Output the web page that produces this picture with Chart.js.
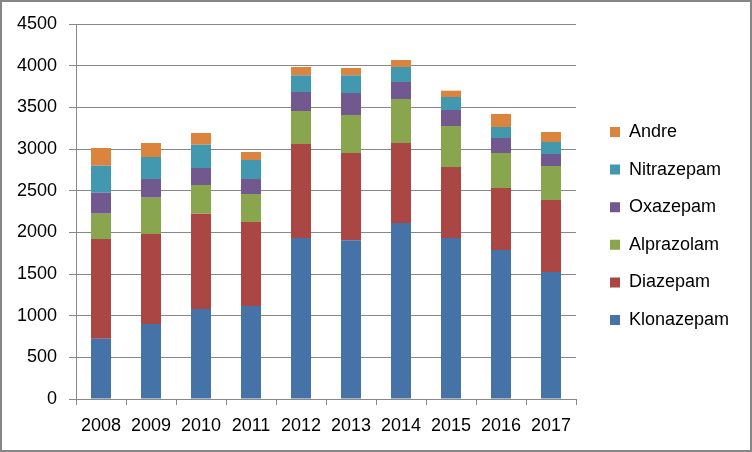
<!DOCTYPE html>
<html><head><meta charset="utf-8">
<script src="https://cdn.jsdelivr.net/npm/chart.js@4/dist/chart.umd.min.js"></script>
<style>
html,body{margin:0;padding:0;background:#fff;}
#wrap{position:relative;width:752px;height:452px;}
#c{position:absolute;left:0;top:0;}
#frame{position:absolute;left:0;top:0;width:752px;height:452px;box-sizing:border-box;border:2px solid #878787;pointer-events:none;}
</style></head><body>
<div id="wrap"><canvas id="c" width="752" height="452"></canvas><div id="frame"></div></div>
<script>
const years = ['2008','2009','2010','2011','2012','2013','2014','2015','2016','2017'];
const seriesNames = ['Klonazepam','Diazepam','Alprazolam','Oxazepam','Nitrazepam','Andre'];
const klonazepam = [724, 900, 1080, 1116, 1932, 1904, 2112, 1932, 1788, 1524];
const diazepam   = [1196, 1080, 1144, 1008, 1128, 1048, 960, 852, 744, 864];
const alprazolam = [304, 436, 344, 336, 396, 456, 528, 492, 420, 408];
const oxazepam   = [252, 224, 204, 180, 228, 264, 204, 192, 180, 144];
const nitrazepam = [324, 264, 280, 228, 200, 212, 180, 156, 132, 144];
const andre      = [212, 168, 140, 96, 100, 88, 84, 76, 156, 120];
const yTicks = [0, 500, 1000, 1500, 2000, 2500, 3000, 3500, 4000, 4500];

const colors = ['#4572A7','#AA4643','#89A54E','#71588F','#4198AF','#DB843D'];
const values = [klonazepam, diazepam, alprazolam, oxazepam, nitrazepam, andre];

const FONT = 'Liberation Sans';
const FS = 18;
const LPAD = 19.6;
const gridColor = '#878787';
const PLOT_RIGHT = 576;
const BOX_X = 610;

// measure widest legend text to size the legend
const mctx = document.createElement('canvas').getContext('2d');
mctx.font = FS + 'px "' + FONT + '"';
const textW = Math.max(...seriesNames.map(n => mctx.measureText(n).width));
const legendWidth = LPAD + 10 + FS / 2 + textW + 10;
const padRight = Math.max(0, 752 - PLOT_RIGHT - legendWidth);

const legendShift = {
  id: 'legendShift',
  afterLayout(chart) {
    const lg = chart.legend;
    if (!lg) return;
    const dx = (BOX_X - LPAD) - lg.left;
    lg.left += dx; lg.right += dx;
  }
};

Chart.defaults.font.family = FONT;
Chart.defaults.font.size = FS;
Chart.defaults.color = '#000';

new Chart(document.getElementById('c'), {
  type: 'bar',
  data: {
    labels: years,
    datasets: seriesNames.map((n, i) => ({
      label: n,
      data: values[i],
      backgroundColor: colors[i],
      borderWidth: 0,
      barPercentage: 0.4,
      categoryPercentage: 1.0
    }))
  },
  plugins: [legendShift],
  options: {
    responsive: false,
    animation: false,
    devicePixelRatio: 1,
    layout: { padding: { top: 0, bottom: 0, left: 0, right: padRight } },
    plugins: {
      tooltip: { enabled: false },
      title: { display: true, text: '', font: { size: 12, lineHeight: 1 }, padding: { top: 6, bottom: 6 } },
      legend: {
        position: 'right',
        reverse: true,
        labels: { boxWidth: 10, boxHeight: 10, padding: LPAD, color: '#000', font: { size: FS, family: FONT } }
      }
    },
    scales: {
      x: {
        stacked: true,
        offset: true,
        grid: { offset: true, drawOnChartArea: false, drawTicks: true, tickLength: 6, color: gridColor },
        border: { display: true, color: gridColor },
        ticks: { padding: 10, maxRotation: 0, autoSkip: false, color: '#000', font: { size: FS } },
        afterFit: s => { s.height = 53; }
      },
      y: {
        stacked: true,
        min: 0, max: 4500,
        afterBuildTicks: s => { s.ticks = yTicks.map(v => ({ value: v })); },
        grid: { color: gridColor, tickLength: 7 },
        border: { display: true, color: gridColor },
        ticks: { padding: 12, color: '#000', font: { size: FS }, callback: v => String(v) },
        afterFit: s => { s.width = 76; }
      }
    }
  }
});
</script>
</body></html>
